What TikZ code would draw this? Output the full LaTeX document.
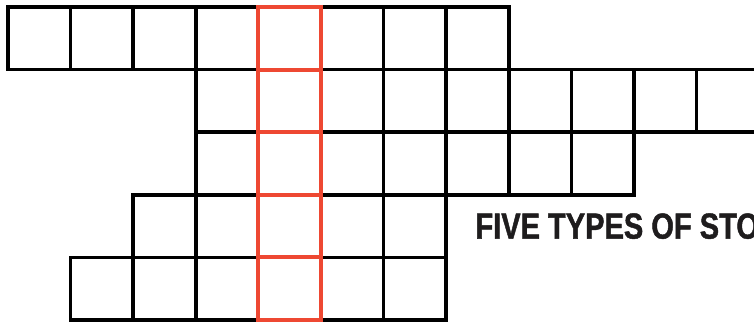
\documentclass[tikz,border=0pt]{standalone}
\usepackage{fontspec}
\usepackage{tikz}
\usetikzlibrary{positioning}
\usepackage{xcolor}
\newfontfamily\titlefont[FakeStretch=0.8,FakeBold=1.2]{Liberation Sans}
\definecolor{gridred}{RGB}{238,72,50}
\definecolor{inkblack}{RGB}{30,28,29}

\begin{document}
\begin{tikzpicture}[scale=1.0,
    cellbox/.style={draw=black, line width=1.7pt},
    redbox/.style={draw=gridred, line width=1.75pt}]
  \clip (-0.128,0.112) rectangle (11.917,-5.016);
  % rows of the grid: row / first column / last column
  \foreach \r/\a/\b in {0/0/7, 1/3/11, 2/3/9, 3/2/6, 4/1/6}{
    \foreach \c in {\a,...,\b}{
      \draw[cellbox] (\c,-\r) rectangle ++(1,-1);
    }
  }
  % highlighted column
  \foreach \r in {0,...,4}{\draw[redbox] (4,-\r) rectangle ++(1,-1);}
  \node[anchor=base west, inner sep=0pt, text=inkblack,
        font=\titlefont\bfseries\fontsize{16.5}{18}\selectfont]
        (title) at (7.46,-3.70) {FIVE TYPES OF STO};
\end{tikzpicture}
\end{document}
